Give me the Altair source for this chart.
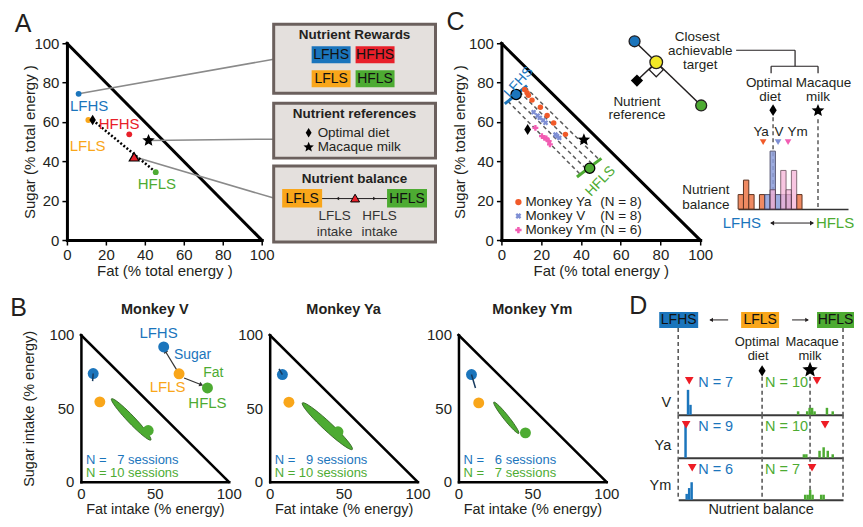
import math
import altair as alt
import pandas as pd

FONT = "Liberation Sans"
INK = "#231f20"
BLUE = "#1b75bc"
RED = "#e8202a"
ORANGE = "#f9a61a"
GREEN = "#4dab32"
YELLOW = "#f2e826"
YA_COL = "#f15a29"
V_COL = "#7e8fd4"
YM_COL = "#f25db3"
BOX_FILL = "#e4e0dd"
BOX_EDGE = "#6b605d"
DASH_COL = "#5b5b5b"
TRI_RED = "#ee1c25"

# ---------------- Panel A values ----------------
A_names = ["LFHS", "HFHS", "LFLS", "HFLS"]
A_fat = [6.0, 32.0, 11.0, 45.6]
A_sugar = [74.3, 53.7, 61.0, 34.5]
A_colors = [BLUE, RED, ORANGE, GREEN]
A_diet = [13.2, 61.0]
A_milk = [41.9, 50.6]
A_balance = [34.5, 42.3]

# ---------------- Panel C values ----------------
C_reward_fat = [7.4, 44.4]          # LFHS, HFLS
C_reward_sugar = [74.0, 36.5]
C_lfhs_range = [1.7, 69.2, 12.9, 78.5]
C_hfls_range = [38.0, 32.0, 50.3, 41.5]
C_diet = [13.2, 56.2]
C_milk = [41.5, 50.9]
Ya_fat = [11.7, 12.9, 13.6, 15.4, 19.6, 23.0, 26.3, 32.2]
Ya_sugar = [76.5, 74.8, 73.6, 71.1, 67.5, 63.3, 59.5, 53.7]
V_fat = [16.2, 18.2, 19.3, 21.0, 22.2, 27.2, 28.0, 29.1]
V_sugar = [65.0, 63.2, 62.1, 60.9, 59.6, 53.6, 52.8, 51.9]
Ym_fat = [17.1, 20.4, 21.6, 22.6, 23.8, 24.4]
Ym_sugar = [57.0, 52.8, 51.9, 51.6, 50.3, 48.6]
C_legend = ["Monkey Ya", "Monkey V", "Monkey Ym"]
C_legend_n = [8, 8, 6]

# nutrient-balance histogram (panel C inset), bin width 5
C_bin = 5.0
C_ya_bins = [0, 5, 10, 20, 30, 45, 55]
C_ya_counts = [1, 2, 1, 1, 1, 1, 1]
C_v_bins = [25, 30, 35, 40, 45]
C_v_counts = [1, 4, 1, 1, 1]
C_ym_bins = [30, 40, 45, 50]
C_ym_counts = [1, 2, 1, 2]
C_means = [23.5, 37.5, 46.9]        # Ya, V, Ym
C_diet_bal = 32.8
C_milk_bal = 75.0

# ---------------- Panel B values ----------------
B_monkeys = ["Monkey V", "Monkey Ya", "Monkey Ym"]
B_lfhs = [(8.3, 73.7), (8.6, 73.0), (8.8, 73.0)]
B_lfhs_tail = [(7.9, 68.5), (6.3, 76.9), (11.5, 63.9)]
B_lfls = [(12.8, 54.4), (13.0, 54.2), (13.7, 53.7)]
B_hfls = [(45.5, 34.9), (46.2, 34.0), (45.3, 33.3)]
B_ell_from = [(20.7, 56.5), (22.1, 53.7), (23.9, 54.2)]
B_ell_to = [(47.3, 28.4), (55.9, 22.0), (40.8, 32.9)]
B_n_lfhs = [7, 9, 6]
B_n_hfls = [10, 10, 7]

# ---------------- Panel D values ----------------
D_rows = ["V", "Ya", "Ym"]
D_bin = 1.5
D_lfhs_bins = [[5.2, 6.7], [3.7], [4.4, 5.9, 7.4]]
D_lfhs_counts = [[5, 2], [9], [1, 2, 3]]
D_hfls_bins = [[72.0, 77.5, 79.0, 80.5, 82.0, 89.5, 93.0],
               [75.5, 77.0, 85.0, 87.5, 90.0, 93.0],
               [76.3, 77.8, 79.3, 80.8, 86.0, 87.5]]
D_hfls_counts = [[1, 1, 2, 2, 1, 2, 1], [1, 1, 2, 3, 2, 1], [1, 1, 2, 1, 1, 1]]
D_n_lfhs = [7, 9, 6]
D_n_hfls = [10, 10, 7]
D_mean_lfhs = [6.7, 4.8, 8.5]
D_mean_hfls = [84.2, 89.1, 81.2]
D_diet = 50.9
D_milk = 80.0


# ---------------- shapes ----------------
def star_path(r_in=0.45):
    p = []
    for i in range(10):
        r = 1.0 if i % 2 == 0 else r_in
        a = math.pi * i / 5 - math.pi / 2
        p.append(f"{r*math.cos(a):.3f},{r*math.sin(a):.3f}")
    return "M" + "L".join(p) + "Z"


def ellipse_path(ratio=0.13, n=40):
    p = [f"{math.cos(2*math.pi*k/n):.3f},{ratio*math.sin(2*math.pi*k/n):.3f}" for k in range(n)]
    return "M" + "L".join(p) + "Z"


STAR = star_path()
DIAMOND = "M0,-1L0.62,0L0,1L-0.62,0Z"
ELLIPSE = ellipse_path()


class Panel:
    def __init__(self, x0, y0, sx, sy, xdom, ydom, xaxis=None, yaxis=None):
        self.x0, self.y0, self.sx, self.sy = x0, y0, sx, sy
        self.xs = alt.Scale(domain=xdom, nice=False, zero=False)
        self.ys = alt.Scale(domain=ydom, nice=False, zero=False)
        self.xaxis, self.yaxis = xaxis, yaxis

    def fx(self, px):
        return (px - self.x0) / self.sx

    def fy(self, py):
        return (self.y0 - py) / self.sy

    def X(self):
        return alt.X("x:Q", scale=self.xs, axis=self.xaxis)

    def Y(self):
        return alt.Y("y:Q", scale=self.ys, axis=self.yaxis)


def pts(P, xy, **mk):
    df = pd.DataFrame(xy, columns=["x", "y"])
    st = dict(filled=True, opacity=1)
    st.update(mk)
    return alt.Chart(df).mark_point(**st).encode(x=P.X(), y=P.Y())


def segs(P, items, **mk):
    df = pd.DataFrame(items, columns=["x", "y", "x2", "y2"])
    return alt.Chart(df).mark_rule(**mk).encode(x=P.X(), y=P.Y(), x2="x2:Q", y2="y2:Q")


def rects(P, items, **mk):
    df = pd.DataFrame(items, columns=["x", "y", "x2", "y2"])
    return alt.Chart(df).mark_rect(**mk).encode(x=P.X(), y=P.Y(), x2="x2:Q", y2="y2:Q")


def txt(P, items, **mk):
    df = pd.DataFrame(items, columns=["x", "y", "t"])
    st = dict(fontSize=14, color=INK, baseline="middle", align="center")
    st.update(mk)
    return alt.Chart(df).mark_text(**st).encode(x=P.X(), y=P.Y(), text="t:N")


def anchor(P, fig_points):
    # invisible layout anchors (fix the bounding box of a row)
    return pts(P, [(P.fx(a), P.fy(b)) for a, b in fig_points], size=1, opacity=0)


TRI_COMMON = dict(values=[0, 20, 40, 60, 80, 100], titleFontSize=15, titleFontWeight="normal",
                  labelFontSize=15, labelColor=INK, titleColor=INK, domainColor="black",
                  domainWidth=3, domainCap="square", tickColor="black", tickSize=5,
                  tickWidth=1.5, grid=False, labelFlush=False)

# =============== Panel A ===============
AXA_X = alt.Axis(title="Fat (% total energy )", labelPadding=2, titlePadding=2, **TRI_COMMON)
AXA_Y = alt.Axis(title="Sugar (% total energy )", labelPadding=3, titlePadding=-4, **TRI_COMMON)
PA = Panel(66, 239, 1.95, 1.97, [0, 100], [0, 100], AXA_X, AXA_Y)
ax, ay = PA.fx, PA.fy

A_layers = [
    anchor(PA, [(8, 8), (8, 286)]),
    segs(PA, [(0, 100, 100, 0)], color="black", strokeWidth=3, strokeCap="square"),
    segs(PA, [(A_fat[0], A_sugar[0], ax(273), ay(58)),
              (A_milk[0], A_milk[1], ax(273), ay(138)),
              (A_balance[0], A_balance[1], ax(273), ay(197))], color="#8a8a8a", strokeWidth=1.5),
    rects(PA, [(ax(273), ay(23), ax(435), ay(92)),
               (ax(273), ay(102), ax(435), ay(157)),
               (ax(273), ay(165), ax(435), ay(241))], fill=BOX_FILL, stroke=BOX_EDGE, strokeWidth=3),
    segs(PA, [(A_diet[0], A_diet[1], A_fat[3], A_sugar[3])], color="black", strokeWidth=2.5, strokeDash=[2, 2]),
]
for i in range(4):
    A_layers.append(pts(PA, [(A_fat[i], A_sugar[i])], shape="circle", size=34, color=A_colors[i]))
A_layers += [
    pts(PA, [tuple(A_diet)], shape=DIAMOND, size=110, color="black"),
    pts(PA, [tuple(A_milk)], shape=STAR, size=170, color="black"),
    pts(PA, [tuple(A_balance)], shape="triangle-up", size=95, fill=RED, stroke="black", strokeWidth=1.2),
]
A_label_pos = [(11.4, 68.0), (26.8, 59.0), (10.6, 47.7), (46.2, 28.6)]
for i in range(4):
    A_layers.append(txt(PA, [(A_label_pos[i][0], A_label_pos[i][1], A_names[i])], fontSize=15, color=A_colors[i]))
A_layers.append(txt(PA, [(ax(22), ay(23), "A")], fontSize=25))
# box 1: rewards
A_layers.append(txt(PA, [(ax(354), ay(34), "Nutrient Rewards")], fontSize=13.5, fontWeight="bold"))
rw_boxes = [(311, 45, 350, 62), (355, 45, 394, 62), (311, 69, 350, 86), (355, 69, 394, 86)]
for i, (x1, y1, x2, y2) in enumerate(rw_boxes):
    A_layers.append(rects(PA, [(ax(x1), ay(y1), ax(x2), ay(y2))], fill=A_colors[i]))
    A_layers.append(txt(PA, [(ax((x1 + x2) / 2), ay((y1 + y2) / 2 + 0.5), A_names[i])], fontSize=14, color="#111"))
# box 2: references
A_layers += [
    txt(PA, [(ax(354), ay(113), "Nutrient references")], fontSize=13.5, fontWeight="bold"),
    pts(PA, [(ax(308), ay(131.5))], shape=DIAMOND, size=90, color="black"),
    pts(PA, [(ax(308), ay(146))], shape=STAR, size=120, color="black"),
    txt(PA, [(ax(317), ay(131.5), "Optimal diet"), (ax(317), ay(146), "Macaque milk")], fontSize=13.5, align="left"),
]
# box 3: balance
A_layers += [
    txt(PA, [(ax(354), ay(178), "Nutrient balance")], fontSize=13.5, fontWeight="bold"),
    segs(PA, [(ax(321), ay(197.5), ax(387), ay(197.5))], color=INK, strokeWidth=1),
    rects(PA, [(ax(281.5), ay(188), ax(321.5), ay(206.5))], fill=ORANGE),
    rects(PA, [(ax(386.5), ay(188), ax(426.5), ay(206.5))], fill=GREEN),
    txt(PA, [(ax(301.5), ay(197.8), "LFLS"), (ax(406.5), ay(197.8), "HFLS")], fontSize=14, color="#111"),
    pts(PA, [(ax(337), ay(197.5))], shape="triangle-left", size=12, color=INK),
    pts(PA, [(ax(374), ay(197.5))], shape="triangle-right", size=12, color=INK),
    pts(PA, [(ax(354.5), ay(197))], shape="triangle-up", size=80, fill=RED, stroke="black", strokeWidth=1),
    txt(PA, [(ax(334), ay(215), "LFLS"), (ax(334), ay(231), "intake"),
             (ax(379), ay(215), "HFLS"), (ax(379), ay(231), "intake")], fontSize=13.5, color="#333"),
]
chartA = alt.layer(*A_layers).properties(width=195, height=197)

# =============== Panel C (triangle) ===============
AXC_X = alt.Axis(title="Fat (% total energy )", labelPadding=2, titlePadding=2, **TRI_COMMON)
AXC_Y = alt.Axis(title="Sugar (% total energy )", labelPadding=3, titlePadding=1, **TRI_COMMON)
PC = Panel(501, 239, 1.99, 1.97, [0, 100], [0, 100], AXC_X, AXC_Y)
cx, cy = PC.fx, PC.fy

lx0, ly0, lx1, ly1 = C_lfhs_range
hx0, hy0, hx1, hy1 = C_hfls_range
dash_lines = []
for t in [0.92, 0.66, 0.40, 0.14]:
    dash_lines.append((lx0 + (lx1 - lx0) * t, ly0 + (ly1 - ly0) * t,
                       hx0 + (hx1 - hx0) * t, hy0 + (hy1 - hy0) * t))
C_layers = [
    segs(PC, [(0, 100, 100, 0)], color="black", strokeWidth=3, strokeCap="square"),
    segs(PC, dash_lines, color=DASH_COL, strokeWidth=1.5, strokeDash=[4, 3]),
    segs(PC, [tuple(C_lfhs_range)], color=BLUE, strokeWidth=3),
    segs(PC, [tuple(C_hfls_range)], color=GREEN, strokeWidth=3),
    pts(PC, list(zip(Ya_fat, Ya_sugar)), shape="circle", size=30, color=YA_COL),
    pts(PC, list(zip(V_fat, V_sugar)), shape="cross", angle=45, size=30, color=V_COL),
    pts(PC, list(zip(Ym_fat, Ym_sugar)), shape="cross", size=34, color=YM_COL),
    pts(PC, [(C_reward_fat[0], C_reward_sugar[0])], shape="circle", size=105, fill=BLUE, stroke="black", strokeWidth=1.3),
    pts(PC, [(C_reward_fat[1], C_reward_sugar[1])], shape="circle", size=105, fill=GREEN, stroke="black", strokeWidth=1.3),
    pts(PC, [tuple(C_diet)], shape=DIAMOND, size=120, color="black"),
    pts(PC, [tuple(C_milk)], shape=STAR, size=170, color="black"),
    txt(PC, [(8.7, 80.2, "LFHS")], fontSize=14, color=BLUE, angle=312),
    txt(PC, [(49.9, 29.8, "HFLS")], fontSize=14, color=GREEN, angle=314),
    txt(PC, [(cx(455), cy(21), "C")], fontSize=25),
]
leg_y = [cy(201), cy(215), cy(229)]
C_layers += [
    pts(PC, [(cx(518), leg_y[0])], shape="circle", size=40, color=YA_COL),
    pts(PC, [(cx(518), leg_y[1])], shape="cross", angle=45, size=36, color=V_COL),
    pts(PC, [(cx(518), leg_y[2])], shape="cross", size=40, color=YM_COL),
    txt(PC, [(cx(525), leg_y[k], C_legend[k]) for k in range(3)], fontSize=13.5, align="left"),
    txt(PC, [(cx(600), leg_y[k], f"(N = {C_legend_n[k]})") for k in range(3)], fontSize=13.5, align="left"),
]
chartC = alt.layer(*C_layers).properties(width=199, height=197)

# =============== Panel C (diagram + histogram) ===============
AXCD_X = alt.Axis(labels=False, ticks=False, title=None, domainColor="#333", domainWidth=1.5, grid=False)
PCd = Panel(738, 208, 1.066, 116, [0, 110 / 1.066], [0, 166 / 116], AXCD_X, None)
dx, dy = PCd.fx, PCd.fy

Cd_layers = [
    segs(PCd, [(dx(634.3), dy(40), dx(701), dy(104.3)), (dx(636.7), dy(79.3), dx(656), dy(61))], color=INK, strokeWidth=1.5),
    pts(PCd, [(dx(656), dy(68.5))], shape="diamond", size=200, fill="white", stroke=INK, strokeWidth=1.2),
    pts(PCd, [(dx(634.3), dy(40))], shape="circle", size=120, fill=BLUE, stroke=INK, strokeWidth=1.3),
    pts(PCd, [(dx(656), dy(61))], shape="circle", size=160, fill=YELLOW, stroke=INK, strokeWidth=1.3),
    pts(PCd, [(dx(701), dy(104.3))], shape="circle", size=120, fill=GREEN, stroke=INK, strokeWidth=1.3),
    pts(PCd, [(dx(636.7), dy(79.3))], shape="diamond", size=150, color="black"),
    txt(PCd, [(dx(636.7), dy(100.5), "Nutrient"), (dx(636.7), dy(114.3), "reference")], fontSize=13.5),
    txt(PCd, [(dx(697), dy(36), "Closest"), (dx(700), dy(49.5), "achievable"), (dx(700), dy(63.3), "target")], fontSize=13.5),
    segs(PCd, [(dx(736), dy(49), dx(795), dy(49)), (dx(795), dy(49), dx(795), dy(65)),
               (dx(771), dy(65), dx(818), dy(65)), (dx(771), dy(65), dx(771), dy(72)),
               (dx(818), dy(65), dx(818), dy(72))], color=INK, strokeWidth=1.2),
    txt(PCd, [(dx(769), dy(82), "Optimal"), (dx(770), dy(95.5), "diet"),
              (dx(823.5), dy(82), "Macaque"), (dx(818), dy(95.5), "milk")], fontSize=13.5),
    segs(PCd, [(C_diet_bal, dy(116), C_diet_bal, 0), (C_milk_bal, dy(118), C_milk_bal, 0)],
         color=DASH_COL, strokeWidth=1.5, strokeDash=[4, 3]),
    pts(PCd, [(C_diet_bal, dy(109))], shape=DIAMOND, size=140, color="black"),
    pts(PCd, [(C_milk_bal, dy(109.5))], shape=STAR, size=180, color="black"),
    rects(PCd, [(b, 0, b + C_bin, c / 8) for b, c in zip(C_ya_bins, C_ya_counts)],
          fill="#ef8a62", stroke="#5b3322", strokeWidth=1),
    rects(PCd, [(b, 0, b + C_bin, c / 8) for b, c in zip(C_v_bins, C_v_counts)],
          fill="#8d9edb", opacity=0.85, stroke="#3b3b5b", strokeWidth=1),
    rects(PCd, [(b, 0, b + C_bin, c / 6) for b, c in zip(C_ym_bins, C_ym_counts)],
          fill="#f6b3d7", opacity=0.75, stroke="#5b3b4b", strokeWidth=1),
    pts(PCd, [(C_means[0], dy(141))], shape="triangle-down", size=45, color=YA_COL),
    pts(PCd, [(C_means[1], dy(141))], shape="triangle-down", size=45, color=V_COL),
    pts(PCd, [(C_means[2], dy(141))], shape="triangle-down", size=45, color=YM_COL),
    txt(PCd, [(dx(761), dy(130.7), "Ya"), (dx(779), dy(130.7), "V"), (dx(797.5), dy(130.7), "Ym")], fontSize=13.5),
    txt(PCd, [(dx(705.7), dy(189), "Nutrient"), (dx(705.7), dy(204), "balance")], fontSize=13.5),
    txt(PCd, [(dx(741.7), dy(222), "LFHS")], fontSize=15, color=BLUE),
    txt(PCd, [(dx(835), dy(222), "HFLS")], fontSize=15, color=GREEN),
    segs(PCd, [(dx(771), dy(222), dx(813), dy(222))], color=INK, strokeWidth=1),
    pts(PCd, [(dx(772), dy(222))], shape="triangle-left", size=22, color=INK),
    pts(PCd, [(dx(812), dy(222))], shape="triangle-right", size=22, color=INK),
]
chartCd = alt.layer(*Cd_layers).properties(width=110, height=166)

# =============== Panel B ===============
B_COMMON = dict(values=[0, 50, 100], titleFontSize=14.5, titleFontWeight="normal", labelFontSize=15,
                labelColor=INK, titleColor=INK, domainColor="black", domainWidth=2.5,
                domainCap="square", ticks=False, grid=False, labelFlush=False)


def n_text(n):
    return "N = " + (str(n) if n >= 10 else "\u2007" + str(n)) + " sessions"


def b_panel(i, x0):
    axx = alt.Axis(title="Fat intake (% energy)", labelPadding=5, titlePadding=1, **B_COMMON)
    axy = alt.Axis(title=("Sugar intake (% energy)" if i == 0 else None), labelPadding=7,
                   titlePadding=12, **B_COMMON)
    P = Panel(x0, 479, 1.48, 1.47, [0, 100], [0, 100], axx, axy)
    (ex0, ey0), (ex1, ey1) = B_ell_from[i], B_ell_to[i]
    sdx = (ex1 - ex0) * P.sx
    sdy = -(ey1 - ey0) * P.sy
    length = math.hypot(sdx, sdy)
    ang = math.degrees(math.atan2(sdy, sdx)) % 360
    L = [
        segs(P, [(0, 100, 100, 0)], color="black", strokeWidth=2.5, strokeCap="square"),
        pts(P, [((ex0 + ex1) / 2, (ey0 + ey1) / 2)], shape=ELLIPSE, size=length ** 2, angle=ang,
            fill=GREEN, stroke="#2e5e1e", strokeWidth=0.8),
        pts(P, [B_hfls[i]], shape="circle", size=120, color=GREEN),
        pts(P, [B_lfls[i]], shape="circle", size=120, color=ORANGE),
        pts(P, [B_lfhs[i]], shape="circle", size=120, color=BLUE),
        segs(P, [(B_lfhs[i][0], B_lfhs[i][1], B_lfhs_tail[i][0], B_lfhs_tail[i][1])], color="#173a5e", strokeWidth=1.5),
        txt(P, [(50, P.fy(307), B_monkeys[i])], fontSize=14.5, fontWeight="bold"),
        txt(P, [(3.4, 15.0, n_text(B_n_lfhs[i]))], fontSize=13, color=BLUE, align="left"),
        txt(P, [(3.4, 5.7, n_text(B_n_hfls[i]))], fontSize=13, color=GREEN, align="left"),
    ]
    if i == 0:
        L.insert(0, anchor(P, [(8, 287)]))
        bx = [(56.0, 91.8), (66.4, 73.5), (85.6, 63.9)]
        arrows = [((65.3, 75.3), (57.2, 88.7)), ((69.8, 70.7), (81.0, 66.2))]
        for (a0, a1) in arrows:
            L.append(segs(P, [(a0[0], a0[1], a1[0], a1[1])], color="#333", strokeWidth=1.2))
            vdx = (a1[0] - a0[0]) * P.sx
            vdy = -(a1[1] - a0[1]) * P.sy
            L.append(pts(P, [a1], shape="triangle", size=22, color="#333",
                         angle=math.degrees(math.atan2(vdx, -vdy)) % 360))
        L += [
            pts(P, [bx[0]], shape="circle", size=120, color=BLUE),
            pts(P, [bx[1]], shape="circle", size=120, color=ORANGE),
            pts(P, [bx[2]], shape="circle", size=120, color=GREEN),
            txt(P, [(52.5, 101.4, "LFHS")], fontSize=15, color=BLUE),
            txt(P, [(75.5, 86.6, "Sugar")], fontSize=14, color=BLUE),
            txt(P, [(89.6, 73.9, "Fat")], fontSize=14, color=GREEN),
            txt(P, [(58.6, 64.6, "LFLS")], fontSize=15, color=ORANGE),
            txt(P, [(85.6, 53.7, "HFLS")], fontSize=15, color=GREEN),
            txt(P, [(P.fx(17.5), P.fy(305), "B")], fontSize=25),
        ]
    return alt.layer(*L).properties(width=148, height=147)


B1 = b_panel(0, 80)
B2 = b_panel(1, 269)
B3 = b_panel(2, 458)

# =============== Panel D ===============
ROW_PX = 35.0
row_geom = [(412, 80), (455, 40), (497, 39)]
row_tri = [378, 422, 465]
row_lab = [400, 443, 483]


def d_row(i):
    base, h = row_geom[i]
    last = i == 2
    axx = alt.Axis(labels=False, ticks=False, grid=False, domainColor="#3a3a3a", domainWidth=2,
                   title=("Nutrient balance" if last else None), titleFontSize=14.5,
                   titleFontWeight="normal", titleColor=INK, titlePadding=3)
    P = Panel(678, base, 1.65, ROW_PX, [0, 100], [0, h / ROW_PX], axx, None)
    if i == 0:
        top_edge = P.fy(325)
        ref_top = P.fy(374)
    else:
        top_edge = P.fy(base - h - 3)
        ref_top = top_edge
    L = [
        segs(P, [(0, top_edge, 0, 0), (100, top_edge, 100, 0), (D_diet, ref_top, D_diet, 0),
                 (D_milk, ref_top, D_milk, 0)], color=DASH_COL, strokeWidth=1.6, strokeDash=[4, 3]),
        rects(P, [(b, 0, b + D_bin, c / D_n_lfhs[i]) for b, c in zip(D_lfhs_bins[i], D_lfhs_counts[i])], fill=BLUE),
        rects(P, [(b, 0, b + D_bin, c / D_n_hfls[i]) for b, c in zip(D_hfls_bins[i], D_hfls_counts[i])], fill=GREEN),
    ]
    tri_py = row_tri[i]
    L += [
        pts(P, [(D_mean_lfhs[i], P.fy(tri_py)), (D_mean_hfls[i], P.fy(tri_py))], shape="triangle-down", size=75, color=TRI_RED),
        txt(P, [(P.fx(698), P.fy(tri_py + 2), f"N = {D_n_lfhs[i]}")], fontSize=14.5, color=BLUE, align="left"),
        txt(P, [(P.fx(765), P.fy(tri_py + 2), f"N = {D_n_hfls[i]}")], fontSize=14.5, color=GREEN, align="left"),
        txt(P, [(P.fx(671), P.fy(row_lab[i]), D_rows[i])], fontSize=14.5, align="right"),
    ]
    if i == 0:
        L += [
            rects(P, [(P.fx(659), P.fy(309), P.fx(698), P.fy(325))], fill=BLUE),
            rects(P, [(P.fx(741), P.fy(309), P.fx(779), P.fy(325))], fill=ORANGE),
            rects(P, [(P.fx(817), P.fy(309), P.fx(854), P.fy(325))], fill=GREEN),
            txt(P, [(P.fx(678.5), P.fy(317.5), "LFHS"), (P.fx(760), P.fy(317.5), "LFLS"),
                    (P.fx(835.5), P.fy(317.5), "HFLS")], fontSize=14, color="#111"),
            segs(P, [(P.fx(710), P.fy(317), P.fx(728), P.fy(317)), (P.fx(792), P.fy(317), P.fx(808), P.fy(317))],
                 color=INK, strokeWidth=1),
            pts(P, [(P.fx(711), P.fy(317))], shape="triangle-left", size=18, color=INK),
            pts(P, [(P.fx(807), P.fy(317))], shape="triangle-right", size=18, color=INK),
            txt(P, [(P.fx(757), P.fy(339.5), "Optimal"), (P.fx(758), P.fy(353.5), "diet"),
                    (P.fx(812), P.fy(339.5), "Macaque"), (P.fx(810), P.fy(353.5), "milk")], fontSize=13),
            pts(P, [(D_diet, P.fy(368))], shape=DIAMOND, size=130, color="black"),
            pts(P, [(D_milk, P.fy(367))], shape=STAR, size=260, color="black"),
            txt(P, [(P.fx(638), P.fy(303), "D")], fontSize=25),
        ]
    return alt.layer(*L).properties(width=165, height=h)


Dcol = alt.vconcat(d_row(0), d_row(1), d_row(2), spacing=3, bounds="flush")


def spacer(w):
    return alt.Chart(pd.DataFrame({"x": [0]})).mark_point(opacity=0, size=1).encode(
        x=alt.X("x:Q", axis=None), y=alt.Y("x:Q", axis=None)).properties(width=w, height=1)


top = alt.hconcat(chartA, spacer(240), chartC, spacer(38), chartCd, spacing=0, bounds="flush")
bottom = alt.hconcat(spacer(14), B1, spacer(41), B2, spacer(41), B3, spacer(72), Dcol,
                     spacing=0, bounds="flush")

chart = (alt.vconcat(top, bottom, spacing=1)
         .properties(padding={"left": 0, "top": 0, "right": 0, "bottom": 0})
         .configure(font=FONT)
         .configure_view(stroke=None))

chart.save("out.html", embed_options={"renderer": "svg", "actions": False})
